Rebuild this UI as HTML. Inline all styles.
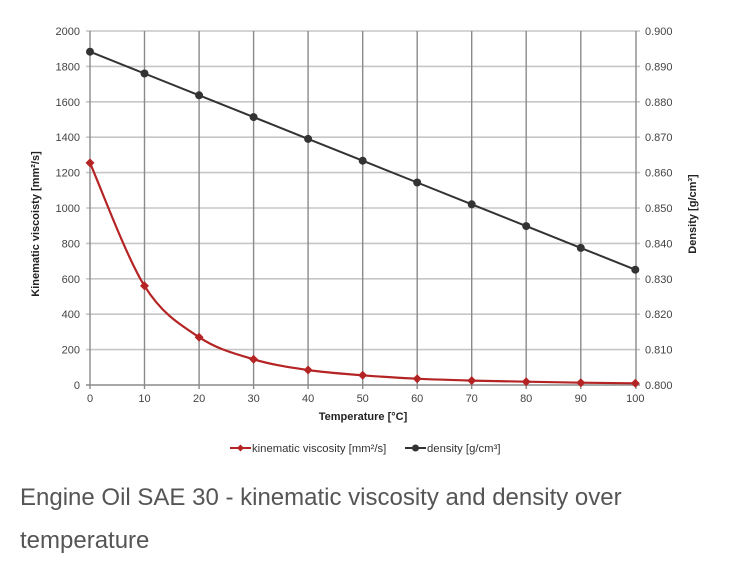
<!DOCTYPE html>
<html><head><meta charset="utf-8"><style>
html,body{margin:0;padding:0;background:#fff;}
body{width:739px;height:581px;overflow:hidden;position:relative;}
svg{position:absolute;left:0;top:0;}
</style></head><body>
<svg width="739" height="581" xmlns="http://www.w3.org/2000/svg" font-family="Liberation Sans, sans-serif">
<g stroke="#c6c6c6" stroke-width="1.6">
<line x1="86" y1="31" x2="640" y2="31"/>
<line x1="86" y1="66.4" x2="640" y2="66.4"/>
<line x1="86" y1="101.8" x2="640" y2="101.8"/>
<line x1="86" y1="137.2" x2="640" y2="137.2"/>
<line x1="86" y1="172.6" x2="640" y2="172.6"/>
<line x1="86" y1="208" x2="640" y2="208"/>
<line x1="86" y1="243.4" x2="640" y2="243.4"/>
<line x1="86" y1="278.8" x2="640" y2="278.8"/>
<line x1="86" y1="314.2" x2="640" y2="314.2"/>
<line x1="86" y1="349.6" x2="640" y2="349.6"/>
</g>
<g stroke="#8a8a8a" stroke-width="1.4">
<line x1="144.5" y1="31" x2="144.5" y2="389"/>
<line x1="199.1" y1="31" x2="199.1" y2="389"/>
<line x1="253.6" y1="31" x2="253.6" y2="389"/>
<line x1="308.1" y1="31" x2="308.1" y2="389"/>
<line x1="362.7" y1="31" x2="362.7" y2="389"/>
<line x1="417.2" y1="31" x2="417.2" y2="389"/>
<line x1="471.7" y1="31" x2="471.7" y2="389"/>
<line x1="526.2" y1="31" x2="526.2" y2="389"/>
<line x1="580.8" y1="31" x2="580.8" y2="389"/>
<line x1="90" y1="31" x2="90" y2="389"/>
<line x1="636" y1="31" x2="636" y2="389"/>
<line x1="86" y1="385" x2="640" y2="385"/>
</g>
<g font-size="11" fill="#444" text-anchor="end">
<text x="80" y="35">2000</text>
<text x="80" y="70.4">1800</text>
<text x="80" y="105.8">1600</text>
<text x="80" y="141.2">1400</text>
<text x="80" y="176.6">1200</text>
<text x="80" y="212">1000</text>
<text x="80" y="247.4">800</text>
<text x="80" y="282.8">600</text>
<text x="80" y="318.2">400</text>
<text x="80" y="353.6">200</text>
<text x="80" y="389">0</text>
</g>
<g font-size="11" fill="#444">
<text x="645" y="35">0.900</text>
<text x="645" y="70.4">0.890</text>
<text x="645" y="105.8">0.880</text>
<text x="645" y="141.2">0.870</text>
<text x="645" y="176.6">0.860</text>
<text x="645" y="212">0.850</text>
<text x="645" y="247.4">0.840</text>
<text x="645" y="282.8">0.830</text>
<text x="645" y="318.2">0.820</text>
<text x="645" y="353.6">0.810</text>
<text x="645" y="389">0.800</text>
</g>
<g font-size="11" fill="#444" text-anchor="middle">
<text x="90" y="402">0</text>
<text x="144.5" y="402">10</text>
<text x="199.1" y="402">20</text>
<text x="253.6" y="402">30</text>
<text x="308.1" y="402">40</text>
<text x="362.7" y="402">50</text>
<text x="417.2" y="402">60</text>
<text x="471.7" y="402">70</text>
<text x="526.2" y="402">80</text>
<text x="580.8" y="402">90</text>
<text x="635.3" y="402">100</text>
</g>
<text x="363" y="420" font-size="11" font-weight="bold" fill="#222" text-anchor="middle">Temperature  [°C]</text>
<text transform="translate(39,224) rotate(-90)" font-size="11" font-weight="bold" fill="#222" text-anchor="middle">Kinematic viscoisty  [mm²/s]</text>
<text transform="translate(696,214) rotate(-90)" font-size="11" font-weight="bold" fill="#222" text-anchor="middle">Density  [g/cm³]</text>
<!-- density -->
<polyline fill="none" stroke="#333" stroke-width="2" points="90,51.7 144.5,73.5 199.1,95.3 253.6,117.1 308.1,138.9 362.7,160.7 417.2,182.5 471.7,204.3 526.2,226.1 580.8,247.9 635.3,269.7"/>
<g fill="#333">
<circle cx="90" cy="51.7" r="4"/><circle cx="144.5" cy="73.5" r="4"/><circle cx="199.1" cy="95.3" r="4"/><circle cx="253.6" cy="117.1" r="4"/><circle cx="308.1" cy="138.9" r="4"/><circle cx="362.7" cy="160.7" r="4"/><circle cx="417.2" cy="182.5" r="4"/><circle cx="471.7" cy="204.3" r="4"/><circle cx="526.2" cy="226.1" r="4"/><circle cx="580.8" cy="247.9" r="4"/><circle cx="635.3" cy="269.7" r="4"/>
</g>
<!-- viscosity -->
<path fill="none" stroke="#b52424" stroke-width="2.2" d="M90,162.9 C99.1,183.4 126.3,256.9 144.5,285.9 C162.7,314.95 180.9,325 199.1,337.2 C217.3,349.4 235.4,353.8 253.6,359.3 C271.8,364.8 289.9,367.3 308.1,370 C326.3,372.7 344.5,373.85 362.7,375.3 C380.9,376.75 399,377.8 417.2,378.7 C435.4,379.6 453.5,380.1 471.7,380.6 L526.2,381.7 L580.8,382.7 L635.3,383.3"/>
<g fill="#b52424">
<path d="M90,158.4 L94.5,162.9 L90,167.4 L85.5,162.9Z"/>
<path d="M144.5,281.4 L149,285.9 L144.5,290.4 L140,285.9Z"/>
<path d="M199.1,332.7 L203.6,337.2 L199.1,341.7 L194.6,337.2Z"/>
<path d="M253.6,354.8 L258.1,359.3 L253.6,363.8 L249.1,359.3Z"/>
<path d="M308.1,365.5 L312.6,370 L308.1,374.5 L303.6,370Z"/>
<path d="M362.7,370.8 L367.2,375.3 L362.7,379.8 L358.2,375.3Z"/>
<path d="M417.2,374.2 L421.7,378.7 L417.2,383.2 L412.7,378.7Z"/>
<path d="M471.7,376.1 L476.2,380.6 L471.7,385.1 L467.2,380.6Z"/>
<path d="M526.2,377.2 L530.7,381.7 L526.2,386.2 L521.7,381.7Z"/>
<path d="M580.8,378.2 L585.3,382.7 L580.8,387.2 L576.3,382.7Z"/>
<path d="M635.3,378.8 L639.8,383.3 L635.3,387.8 L630.8,383.3Z"/>
</g>
<!-- legend -->
<line x1="230" y1="448" x2="251" y2="448" stroke="#b52424" stroke-width="2"/>
<path d="M240.5,444.5 L244,448 L240.5,451.5 L237,448Z" fill="#b52424"/>
<text x="252" y="452" font-size="11.3" fill="#333">kinematic viscosity [mm²/s]</text>
<line x1="405" y1="448" x2="426" y2="448" stroke="#333" stroke-width="2"/>
<circle cx="415.5" cy="448" r="3.5" fill="#333"/>
<text x="427" y="452" font-size="11.3" fill="#333">density [g/cm³]</text>
<!-- caption -->
<text x="20" y="505" font-size="24" fill="#555">Engine Oil SAE 30 - kinematic viscosity and density over</text>
<text x="20" y="548" font-size="24" fill="#555">temperature</text>
</svg>
</body></html>
